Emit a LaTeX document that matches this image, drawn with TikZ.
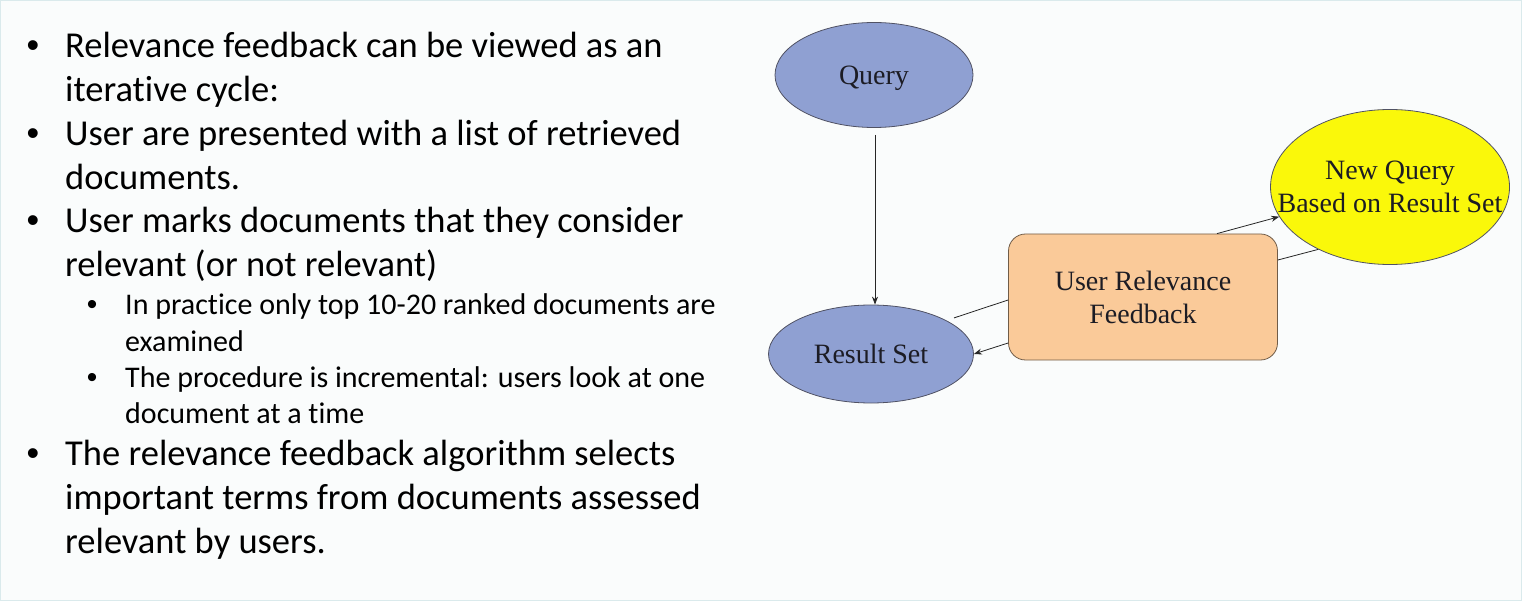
\documentclass[tikz,border=0pt]{standalone}
\usepackage{fontspec}
\setmainfont{Carlito}[Ligatures=NoCommon]
\newfontfamily\diagfont{Liberation Serif}
\newfontfamily\dotfont{Liberation Sans}
\usetikzlibrary{shapes.geometric, arrows.meta}

\definecolor{pagebg}{RGB}{250,252,252}
\definecolor{pageline}{RGB}{218,234,236}
\definecolor{ellblue}{RGB}{143,160,210}
\definecolor{ellline}{RGB}{80,82,100}
\definecolor{newyellow}{RGB}{250,248,10}
\definecolor{boxpeach}{RGB}{250,202,153}
\definecolor{boxline}{RGB}{112,92,72}
\definecolor{diagtext}{RGB}{28,28,36}

\begin{document}
\begin{tikzpicture}[x=1pt, y=-1pt,
    mainline/.style={anchor=base west, inner sep=0pt, font=\fontsize{36.5}{44}\selectfont},
    subline/.style={anchor=base west, inner sep=0pt, font=\fontsize{30}{36}\selectfont},
    mainbullet/.style={anchor=base, inner sep=0pt, font=\dotfont\fontsize{36}{44}\selectfont},
    subbullet/.style={anchor=base, inner sep=0pt, font=\dotfont\fontsize{30}{36}\selectfont},
    diagnode/.style={inner sep=0pt, align=center, text=diagtext, line width=0.8pt,
        font=\diagfont\fontsize{28}{33}\selectfont},
    blueell/.style={diagnode, ellipse, draw=ellline, fill=ellblue, text depth=0pt},
    yellowell/.style={diagnode, ellipse, draw=ellline, fill=newyellow, inner xsep=-30pt},
    fbbox/.style={diagnode, rectangle, rounded corners=17pt, draw=boxline, fill=boxpeach},
    link/.style={draw=black!85, line width=0.8pt},
    arr/.style={link, -{Stealth[length=8pt, width=6pt]}}]

    % Page
    \useasboundingbox (0,0) rectangle (1522,601);
    \fill[pagebg] (0,0) rectangle (1522,601);
    \draw[pageline, line width=1.2pt] (0.6,0.6) rectangle (1521.4,600.4);

    % Bullets
    \node[mainbullet] at (33, 58)  (d1) {•};
    \node[mainline]   at (65, 58)  (t1a) {Relevance feedback can be viewed as an};
    \node[mainline]   at (65, 102) (t1b) {iterative cycle:};
    \node[mainbullet] at (33, 146) (d2) {•};
    \node[mainline]   at (65, 146) (t2a) {User are presented with a list of retrieved};
    \node[mainline]   at (65, 190) (t2b) {documents.};
    \node[mainbullet] at (33, 233) (d3) {•};
    \node[mainline]   at (65, 233) (t3a) {User marks documents that they consider};
    \node[mainline]   at (65, 277) (t3b) {relevant (or not relevant)};

    \node[subbullet]  at (92, 315)  (s1) {•};
    \node[subline]    at (125, 315) (u1a) {In practice only top 10-20 ranked documents are};
    \node[subline]    at (125, 351) (u1b) {examined};
    \node[subbullet]  at (92, 387)  (s2) {•};
    \node[subline]    at (125, 387) (u2a) {The procedure is incremental: users look at one};
    \node[subline]    at (125, 423) (u2b) {document at a time};

    \node[mainbullet] at (33, 465) (d4) {•};
    \node[mainline]   at (65, 465) (t4a) {The relevance feedback algorithm selects};
    \node[mainline]   at (65, 509) (t4b) {important terms from documents assessed};
    \node[mainline]   at (65, 553) (t4c) {relevant by users.};

    % Diagram
    \node[blueell, minimum width=198pt, minimum height=105pt] at (874, 75)  (query)  {Query};
    \node[blueell, minimum width=205pt, minimum height=98pt]  at (871, 354) (result) {Result Set};
    \node[yellowell, minimum width=239pt, minimum height=155pt] at (1390, 187) (newq) {New Query\\Based on Result Set};
    \node[fbbox, minimum width=269pt, minimum height=126pt] at (1143, 297) (feedback) {User Relevance\\Feedback};

    \draw[arr, shorten <=7pt] (query.south -| 875,0) -- (result.north -| 875,0);
    \draw[link, shorten <=8pt] (result.24) -- ([yshift=-3pt]feedback.west);
    \draw[arr] ([yshift=-46pt]feedback.west) -- (result.east);
    \draw[arr] ([xshift=74pt]feedback.north) -- (newq.195);
    \draw[link] (newq.221) -- ([yshift=37pt]feedback.east);
\end{tikzpicture}
\end{document}
